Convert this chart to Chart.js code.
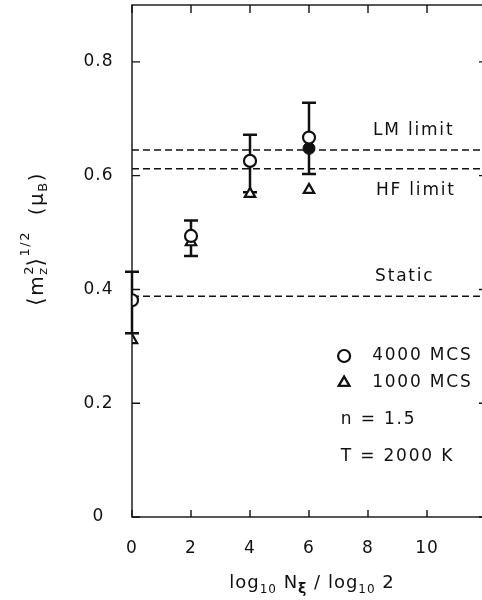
<!DOCTYPE html>
<html>
<head>
<meta charset="utf-8">
<script src="https://cdn.jsdelivr.net/npm/chart.js@4.4.1/dist/chart.umd.min.js"></script>
<style>
  html, body { margin: 0; padding: 0; background: #fff; overflow: hidden; }
  canvas { display: block; }
</style>
</head>
<body>
<canvas id="mzChart" width="490" height="600" style="width:490px;height:600px"></canvas>
<script>
// values
const nSteps = [0, 2, 4, 6];
const mcs4000 = [0.381, 0.494, 0.626, 0.667];
const mcs4000Low = [0.323, 0.459, 0.571, 0.603];
const mcs4000High = [0.431, 0.521, 0.672, 0.728];
const mcs1000 = [0.311, 0.483, 0.568, 0.575];
const filledStep = [6];
const filledValue = [0.648];
const limitNames = ['LM limit', 'HF limit', 'Static'];
const limitValues = [0.645, 0.612, 0.388];
const lineSpan = [0, 12];
const xTicks = [0, 2, 4, 6, 8, 10];
const yTicks = [0, 0.2, 0.4, 0.6, 0.8];

const INK = '#111';
const FAMILY = '"DejaVu Sans", "Noto Sans", sans-serif';

function fontOf(r) {
    return (r.bold ? 'bold ' : '') + r.size + 'px ' + FAMILY;
}

// draws text made of pieces (sub/superscripts), centred on x
function textRuns(ctx, runs, x, y) {
    let w = 0;
    for (const r of runs) {
        ctx.font = fontOf(r);
        r.w = ctx.measureText(r.t).width;
        if (!r.hold) w += r.w;
    }
    let cx = x - w / 2;
    for (const r of runs) {
        ctx.font = fontOf(r);
        ctx.fillText(r.t, cx, y + (r.dy || 0));
        if (!r.hold) cx += r.w;
    }
}

const pointsOf = (xs, ys) => xs.map((x, i) => ({ x: x, y: ys[i] }));

const limitSets = limitValues.map((v, i) => ({
    type: 'line',
    label: limitNames[i],
    data: lineSpan.map(x => ({ x: x, y: v })),
    borderColor: INK,
    borderWidth: 1.5,
    borderDash: [7, 4],
    pointRadius: 0,
    order: 5,
}));

const errorBars = {
    id: 'errorBars',
    beforeDatasetsDraw(chart) {
        const { ctx, scales: { x, y } } = chart;
        ctx.save();
        ctx.strokeStyle = INK;
        ctx.lineWidth = 2.5;
        nSteps.forEach((n, i) => {
            const px = x.getPixelForValue(n);
            const top = y.getPixelForValue(mcs4000High[i]);
            const bot = y.getPixelForValue(mcs4000Low[i]);
            ctx.beginPath();
            ctx.moveTo(px, top);
            ctx.lineTo(px, bot);
            ctx.moveTo(px - 7, top);
            ctx.lineTo(px + 7, top);
            ctx.moveTo(px - 7, bot);
            ctx.lineTo(px + 7, bot);
            ctx.stroke();
        });
        ctx.restore();
    }
};

const frameAndTicks = {
    id: 'frameAndTicks',
    beforeDraw(chart) {
        chart.ctx.letterSpacing = '1px';
    },
    afterDraw(chart) {
        const { ctx, chartArea: a, scales: { x, y } } = chart;
        ctx.save();
        ctx.strokeStyle = INK;
        ctx.lineWidth = 1.4;
        ctx.strokeRect(a.left, a.top, a.right - a.left, a.bottom - a.top);
        ctx.beginPath();
        xTicks.forEach(v => {
            const px = x.getPixelForValue(v);
            ctx.moveTo(px, a.bottom);
            ctx.lineTo(px, a.bottom - 7);
            ctx.moveTo(px, a.top);
            ctx.lineTo(px, a.top + 8);
        });
        yTicks.forEach(v => {
            const py = y.getPixelForValue(v);
            ctx.moveTo(a.left, py);
            ctx.lineTo(a.left + 8, py);
            ctx.moveTo(a.right, py);
            ctx.lineTo(a.right - 7, py);
        });
        ctx.stroke();
        ctx.restore();
    }
};

const notes = {
    id: 'notes',
    afterDatasetsDraw(chart) {
        const { ctx, scales: { x, y } } = chart;
        const sets = chart.data.datasets;
        ctx.save();
        ctx.fillStyle = INK;
        ctx.letterSpacing = '1.8px';
        ctx.font = '17px ' + FAMILY;
        ctx.textAlign = 'left';
        ctx.textBaseline = 'middle';

        // labels of the dashed lines
        const labelAt = [[8.17, 0.679], [8.27, 0.573], [8.24, 0.422]];
        limitNames.forEach((name, i) => {
            ctx.fillText(name, x.getPixelForValue(labelAt[i][0]), y.getPixelForValue(labelAt[i][1]));
        });

        // legend
        const legendRows = [[sets[0], 0.283], [sets[2], 0.236]];
        legendRows.forEach(([ds, v]) => {
            const py = y.getPixelForValue(v);
            Chart.helpers.drawPoint(ctx, {
                pointStyle: ds.pointStyle, radius: ds.pointRadius,
                borderWidth: ds.borderWidth, rotation: 0
            }, x.getPixelForValue(7.19), py);
            ctx.fillStyle = '#fff';
            ctx.strokeStyle = INK;
            ctx.lineWidth = ds.borderWidth;
            ctx.fill();
            ctx.stroke();
            ctx.fillStyle = INK;
            ctx.fillText(ds.label, x.getPixelForValue(8.14), py);
        });
        ctx.fillText('n = 1.5', x.getPixelForValue(7.08), y.getPixelForValue(0.1705));
        ctx.fillText('T = 2000 K', x.getPixelForValue(7.08), y.getPixelForValue(0.1055));

        // axis titles
        ctx.textBaseline = 'alphabetic';
        ctx.letterSpacing = '1px';
        textRuns(ctx, [
            { t: 'log', size: 18 },
            { t: '10', size: 12, dy: 5 },
            { t: ' N', size: 18 },
            { t: 'ξ', size: 14, dy: 5, bold: true },
            { t: ' / log', size: 18 },
            { t: '10', size: 12, dy: 5 },
            { t: ' 2', size: 18 },
        ], 312, 588);

        ctx.translate(43, 239);
        ctx.rotate(-Math.PI / 2);
        ctx.letterSpacing = '1.5px';
        textRuns(ctx, [
            { t: '⟨', size: 22 },
            { t: 'm', size: 20 },
            { t: '2', size: 13, dy: -10, hold: true },
            { t: 'z', size: 13, dy: 4 },
            { t: '⟩', size: 22 },
            { t: '1/2', size: 13, dy: -14 },
            { t: '  (', size: 20 },
            { t: 'μ', size: 20 },
            { t: 'B', size: 13, dy: 4 },
            { t: ')', size: 20 },
        ], 0, 0);
        ctx.restore();
    }
};

const zeroPadding = s => {
    s.paddingLeft = 0;
    s.paddingRight = 0;
    s.paddingTop = 0;
    s.paddingBottom = 0;
};

new Chart(document.getElementById('mzChart'), {
    type: 'scatter',
    data: {
        datasets: [
            {
                label: '4000 MCS',
                data: pointsOf(nSteps, mcs4000),
                pointStyle: 'circle',
                pointRadius: 6,
                borderWidth: 2.2,
                borderColor: INK,
                backgroundColor: '#fff',
                clip: 0,
                order: 0,
            },
            {
                label: '4000 MCS (filled)',
                data: pointsOf(filledStep, filledValue),
                pointStyle: 'circle',
                pointRadius: 6,
                borderWidth: 1,
                borderColor: INK,
                backgroundColor: INK,
                clip: 0,
                order: 1,
            },
            {
                label: '1000 MCS',
                data: pointsOf(nSteps, mcs1000),
                pointStyle: 'triangle',
                pointRadius: 6,
                borderWidth: 2.2,
                borderColor: INK,
                backgroundColor: '#fff',
                clip: 0,
                order: 2,
            },
            ...limitSets
        ]
    },
    options: {
        responsive: false,
        animation: false,
        events: [],
        layout: { autoPadding: false, padding: { top: 5, right: 4, left: 0, bottom: 0 } },
        plugins: {
            legend: { display: false },
            tooltip: { enabled: false },
        },
        scales: {
            x: {
                type: 'linear',
                min: 0,
                max: 12,
                afterBuildTicks: s => { s.ticks = xTicks.map(v => ({ value: v })); },
                afterFit: s => {
                    s.height = 83;
                    zeroPadding(s);
                },
                grid: { display: false, drawTicks: true, tickLength: 21 },
                border: { display: false },
                ticks: {
                    padding: 0,
                    color: INK,
                    maxRotation: 0,
                    autoSkip: false,
                    font: { family: FAMILY, size: 17 },
                },
            },
            y: {
                type: 'linear',
                min: 0,
                max: 0.9,
                afterBuildTicks: s => { s.ticks = yTicks.map(v => ({ value: v })); },
                afterFit: s => {
                    s.width = 132;
                    zeroPadding(s);
                },
                grid: { display: false, drawTicks: true, tickLength: 20 },
                border: { display: false },
                ticks: {
                    padding: 0,
                    crossAlign: 'center',
                    color: INK,
                    font: { family: FAMILY, size: 17 },
                },
            },
        },
    },
    plugins: [errorBars, frameAndTicks, notes],
});
</script>
</body>
</html>
